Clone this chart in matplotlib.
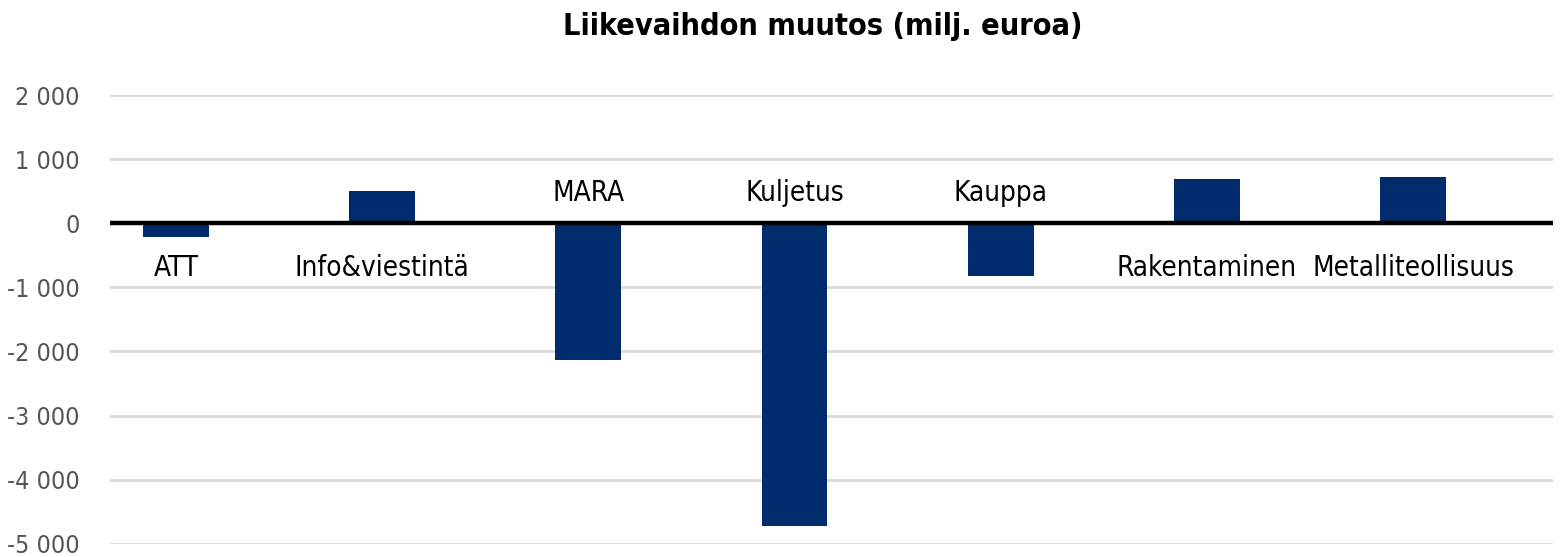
import matplotlib
matplotlib.use("Agg")
import matplotlib.pyplot as plt
from matplotlib.ticker import FuncFormatter, MultipleLocator

# Liikevaihdon muutos, milj. euroa
categories = ["ATT", "Info&viestintä", "MARA", "Kuljetus", "Kauppa",
              "Rakentaminen", "Metalliteollisuus"]
values = [-220, 500, -2140, -4730, -820, 700, 730]
# label sits above the zero line (True) or below it (False)
label_above = [False, False, True, True, True, False, False]

plt.rcParams['font.family'] = ['DejaVu Sans']
plt.rcParams['font.stretch'] = 'condensed'

fig = plt.figure(figsize=(15.61, 5.57), dpi=100)
ax = fig.add_axes([0.0705, 0.024, 0.9245, 0.805])

x = range(len(categories))
ax.bar(x, values, width=0.32, color="#002b6c", zorder=3)
ax.axhline(0, color="black", lw=3.2, zorder=4)

for i, (name, up) in enumerate(zip(categories, label_above)):
    y = 480 if up else -700
    ax.text(i, y, name, ha="center", va="center", fontsize=20, color="black",
            fontstretch="condensed", zorder=5)

ax.set_xlim(-0.32, 6.68)
ax.set_ylim(-5000, 2000)
ax.yaxis.set_major_locator(MultipleLocator(1000))
ax.yaxis.set_major_formatter(FuncFormatter(lambda v, p: f"{v:,.0f}".replace(",", " ")))
ax.grid(axis="y", color="#d9d9d9", lw=2, zorder=0)
ax.set_xticks([])
ax.tick_params(axis="y", length=0, pad=22, labelsize=18, labelcolor="#555555")
for s in ax.spines.values():
    s.set_visible(False)

fig.text(0.527, 0.952, "Liikevaihdon muutos (milj. euroa)", ha="center", va="center",
         fontsize=22, fontweight="bold", fontstretch="condensed")

fig.savefig("out.png", dpi=100, facecolor="white")
